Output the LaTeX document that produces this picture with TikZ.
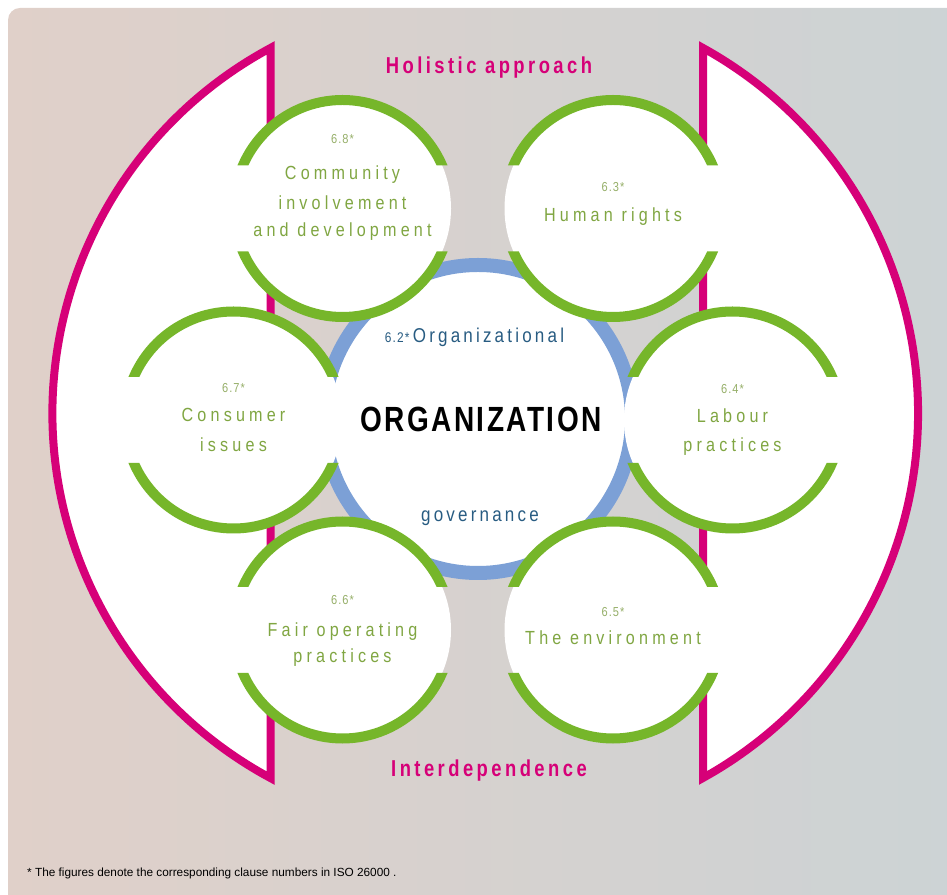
\documentclass[tikz,border=0pt]{standalone}
\usepackage{fontspec}
\setmainfont{Liberation Sans}
\newfontfamily\circfont{Liberation Sans}[FakeStretch=0.85,LetterSpace=22]
\newfontfamily\numfont{Liberation Sans}[FakeStretch=0.85,LetterSpace=8]
\newfontfamily\bluefont{Liberation Sans}[FakeStretch=0.85,LetterSpace=16]
\newfontfamily\headfont{Liberation Sans}[FakeStretch=0.8,LetterSpace=15]
\newfontfamily\orgfont{Liberation Sans}[FakeStretch=0.8,LetterSpace=7]
\definecolor{pinkc}{RGB}{214,0,120}
\definecolor{greenc}{RGB}{118,182,42}
\definecolor{ringblue}{RGB}{124,160,214}
\definecolor{gtext}{RGB}{128,166,66}
\definecolor{gnumc}{RGB}{150,175,105}
\definecolor{btext}{RGB}{40,92,130}
\definecolor{bgL}{RGB}{224,208,201}
\definecolor{bgR}{RGB}{204,211,213}
\newcommand{\gcircle}[3]{%
  \node[gfill] (#1) at (#2,#3) {};
  \begin{scope}
    \clip (#2-130,#3+43) rectangle (#2+130,#3+130)
          (#2-130,#3-43) rectangle (#2+130,#3-130);
    \draw[garc] (#1.center) circle[radius=108.5];
  \end{scope}}
\begin{document}
\begin{tikzpicture}[x=1pt,y=1pt,
  gfill/.style={circle, fill=white, minimum size=217, inner sep=0, draw=none},
  garc/.style={draw=greenc, line width=10},
  pinkshape/.style={draw=pinkc, line width=8, fill=white, line join=miter},
  gtxt/.style={font=\circfont\fontsize{19}{23}\selectfont, text=gtext, anchor=base, inner sep=0},
  gnum/.style={font=\numfont\fontsize{13}{16}\selectfont, text=gnumc, anchor=base, inner sep=0},
  btxt/.style={font=\bluefont\fontsize{20}{24}\selectfont, text=btext, anchor=base, inner sep=0},
  ptxt/.style={font=\headfont\bfseries\fontsize{23}{27}\selectfont, text=pinkc, anchor=base, inner sep=0}]
\useasboundingbox (0,0) rectangle (947,894);
\shade[left color=bgL, right color=bgR, rounded corners=12] (8,-20) rectangle (970,886);
% pink side shapes
\draw[pinkshape] (270.5,846) arc[start angle=118.3, end angle=241.7, radius=414.6] -- cycle;
\draw[pinkshape] (703,846) arc[start angle=61.0, end angle=-61.0, radius=417.3] -- cycle;
% governance ring
\node[circle, draw=ringblue, line width=14, fill=white, minimum size=308, inner sep=0] (ring) at (478,475) {};
% six circles
\gcircle{comm}{342.5}{685.5}
\gcircle{human}{613}{685.5}
\gcircle{cons}{233.5}{474}
\gcircle{labour}{732.5}{474}
\gcircle{fair}{342.5}{264}
\gcircle{env}{613}{264}
% circle texts
\node[gnum] (n68) at (342.5,750) {6.8*};
\node[gtxt] (t68a) at (342.5,714) {Community};
\node[gtxt] (t68b) at (342.5,684) {involvement};
\node[gtxt] (t68c) at (342.5,657) {and development};
\node[gnum] (n63) at (613,702.3) {6.3*};
\node[gtxt] (t63) at (613,672.3) {Human rights};
\node[gnum] (n67) at (233.5,501) {6.7*};
\node[gtxt] (t67a) at (233.5,472.3) {Consumer};
\node[gtxt] (t67b) at (233.5,442.3) {issues};
\node[gnum] (n64) at (732.5,500.7) {6.4*};
\node[gtxt] (t64a) at (732.5,471.3) {Labour};
\node[gtxt] (t64b) at (732.5,442) {practices};
\node[gnum] (n66) at (342.5,289) {6.6*};
\node[gtxt] (t66a) at (342.5,257.3) {Fair operating};
\node[gtxt] (t66b) at (342.5,231) {practices};
\node[gnum] (n65) at (613,277.3) {6.5*};
\node[gtxt] (t65) at (613,249) {The environment};
% centre
\node[font=\orgfont\bfseries\fontsize{35}{40}\selectfont, anchor=base, inner sep=0] (org) at (481,462.3) {ORGANIZATION};
\node[btxt] (gov1) at (474.5,551.3) {{\numfont\fontsize{14}{16}\selectfont 6.2*}\,Organizational};
\node[btxt] (gov2) at (480,372) {governance};
% headings
\node[ptxt] (holistic) at (489,820.7) {Holistic approach};
\node[ptxt] (interdep) at (489,117.3) {Interdependence};
% footnote
\node[font=\fontsize{11.8}{14}\selectfont, anchor=base west, inner sep=0] (foot) at (27,18) {* The figures denote the corresponding clause numbers in ISO 26000 .};
\end{tikzpicture}
\end{document}
